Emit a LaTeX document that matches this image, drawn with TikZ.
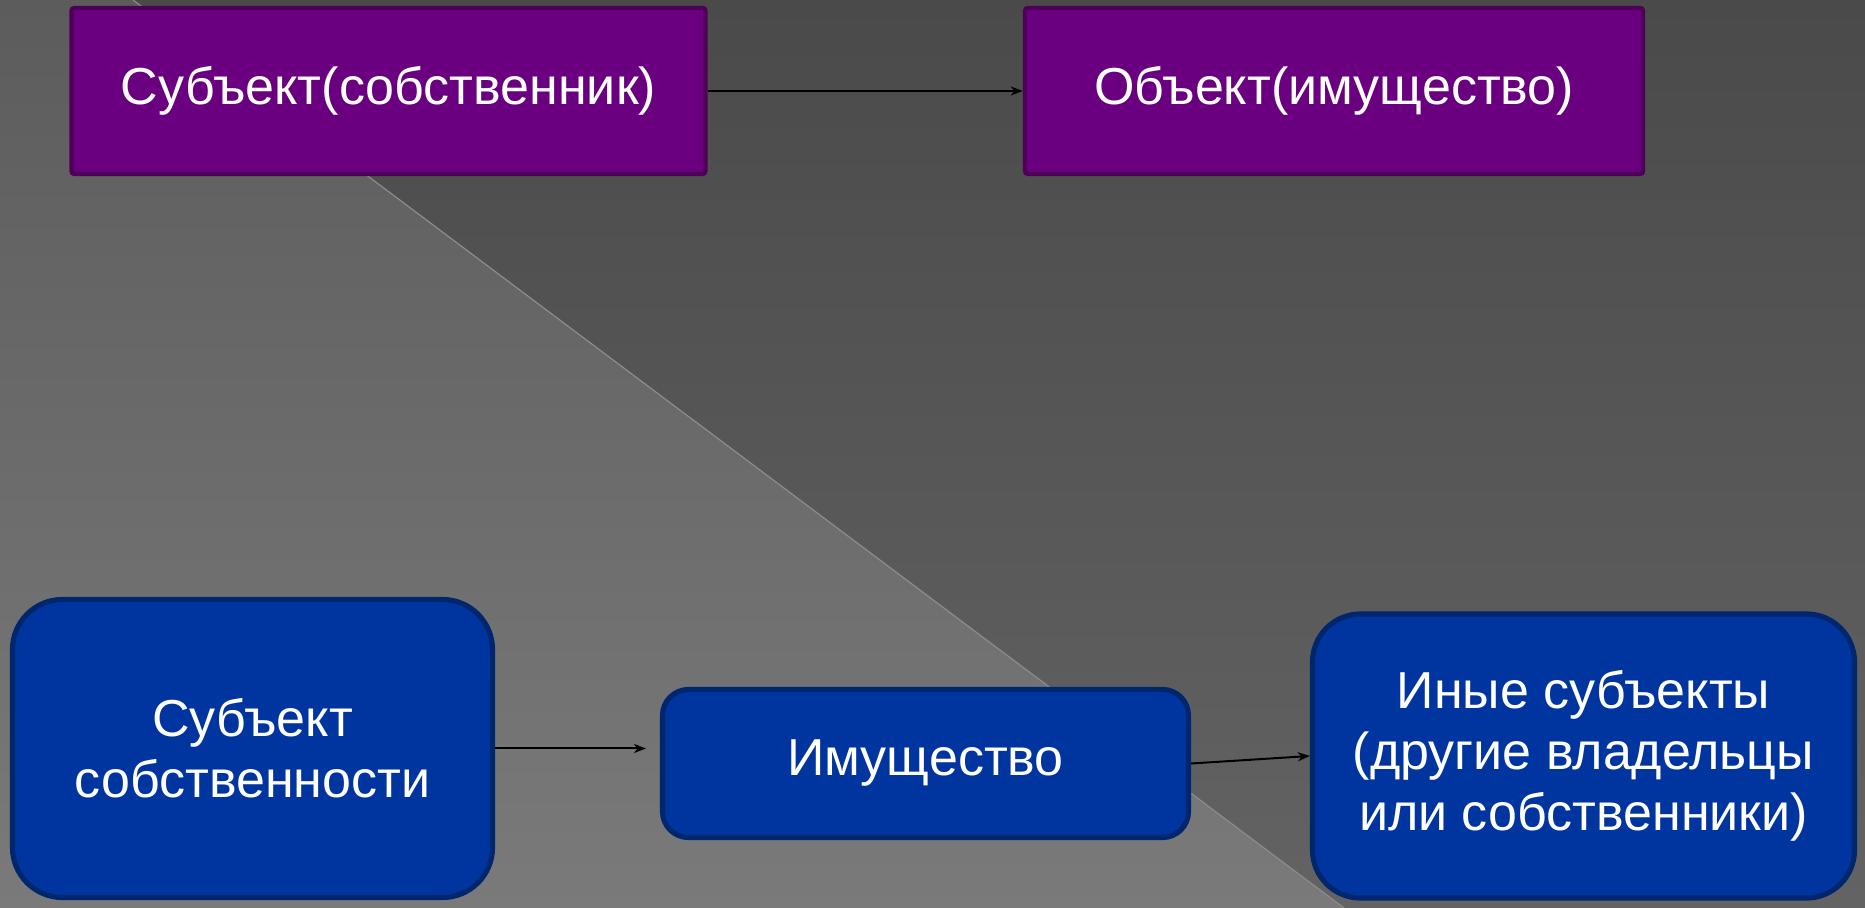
\documentclass[tikz,border=0pt]{standalone}
\usepackage{fontspec}
\setmainfont{Liberation Sans}
\usetikzlibrary{arrows.meta}
\definecolor{bgdarktop}{HTML}{4A4A4A}
\definecolor{bgdarkbot}{HTML}{636363}
\definecolor{bglighttop}{HTML}{5C5C5C}
\definecolor{bglightbot}{HTML}{7A7A7A}
\definecolor{diagline}{HTML}{8C8C8C}
\definecolor{purplefill}{HTML}{6A0080}
\definecolor{purpleedge}{HTML}{4E0058}
\definecolor{bluefill}{HTML}{0035A0}
\definecolor{blueedge}{HTML}{00266E}
\tikzset{
  purplebox/.style={draw=purpleedge, fill=purplefill, line width=2.2pt, rounded corners=1.5pt,
    minimum width=317pt, minimum height=83pt, text=white, align=center, inner sep=0pt,
    font=\fontsize{26}{30}\selectfont},
  bluebox/.style={draw=blueedge, fill=bluefill, line width=2.6pt, text=white, align=center,
    inner sep=0pt, font=\fontsize{26}{30.5}\selectfont},
  link/.style={black, line width=1pt, -{Stealth[length=6pt,width=4.5pt,inset=1.8pt]}}
}
\begin{document}
\begin{tikzpicture}[x=0.5pt,y=-0.5pt]
  \useasboundingbox (0,0) rectangle (1865,908);
  % background
  \shade[top color=bgdarktop, bottom color=bgdarkbot] (0,0) rectangle (1865,908);
  \shade[top color=bglighttop, bottom color=bglightbot] (0,0) -- (133,0) -- (1344,908) -- (0,908) -- cycle;
  \draw[diagline, line width=0.6pt] (133,0) -- (1344,908);
  % nodes
  \node[purplebox] (p1) at (388.5,91) {Субъект(собственник)};
  \node[purplebox, minimum width=309pt] (p2) at (1334,91) {Объект(имущество)};
  \node[bluebox, minimum width=240pt, minimum height=149pt, rounded corners=25pt] (b1) at (252.5,748.5)
    {Субъект\\собственности};
  \node[bluebox, minimum width=263pt, minimum height=74pt, rounded corners=13pt] (b2) at (925.5,763.5)
    {Имущество};
  \node[bluebox, minimum width=271pt, minimum height=142pt, rounded corners=24pt] (b3) at (1583.5,756)
    {\raisebox{-4pt}{}Иные субъекты\\(другие владельцы\\или собственники)};
  \coordinate (b2in) at (646,748.5);
  % connectors
  \draw[link] (p1.east) -- (p2.west);
  \draw[link] (b1.east) -- (b2in);
  \draw[link] (b2.east) -- (b3.west);
\end{tikzpicture}
\end{document}
